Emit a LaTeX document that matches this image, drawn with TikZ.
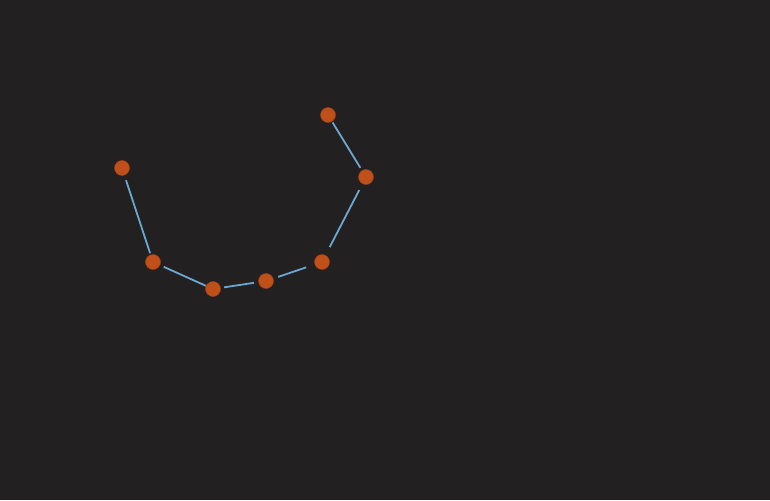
\documentclass[tikz,border=0pt]{standalone}
\definecolor{bg}{HTML}{232021}
\definecolor{dot}{HTML}{C0501A}
\definecolor{edge}{HTML}{6AA8D0}
\begin{document}
\begin{tikzpicture}[x=1pt,y=-1pt,
  pt/.style={circle,fill=dot,draw=dot!80!black,line width=0.5pt,inner sep=0pt,minimum size=15pt},
  link/.style={draw=edge,line width=1.8pt}]
\fill[bg] (0,0) rectangle (770,500);
\useasboundingbox (0,0) rectangle (770,500);
\node[pt] (a) at (122,168) {};
\node[pt] (b) at (153,262) {};
\node[pt] (c) at (213,289) {};
\node[pt] (d) at (266,281) {};
\node[pt] (e) at (322,262) {};
\node[pt] (f) at (366,177) {};
\node[pt] (g) at (328,115) {};
\draw[link,shorten <=5pt,shorten >=1.5pt] (a) -- (b);
\draw[link,shorten <=4pt,shorten >=0pt] (b) -- (c);
\draw[link,shorten <=3.5pt,shorten >=4.5pt] (c) -- (d);
\draw[link,shorten <=5pt,shorten >=9pt] (d) -- (e);
\draw[link,shorten <=9pt,shorten >=7pt] (e) -- (f);
\draw[link,shorten <=3pt,shorten >=1pt] (f) -- (g);
\end{tikzpicture}
\end{document}
